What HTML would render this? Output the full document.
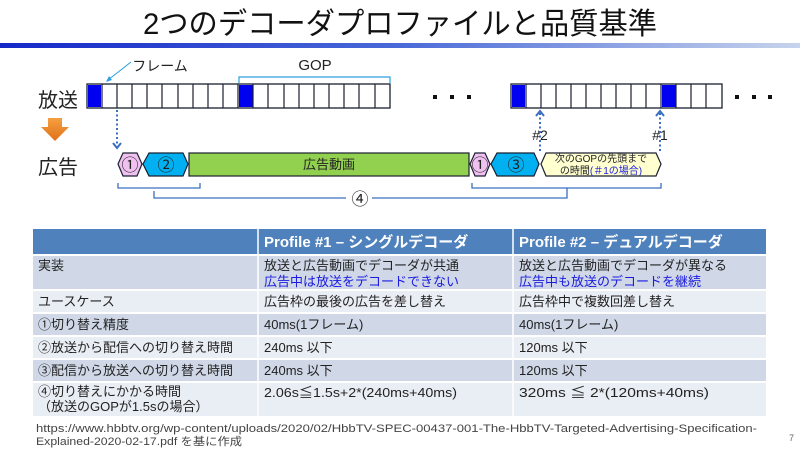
<!DOCTYPE html>
<html><head><meta charset="utf-8"><style>
body{margin:0;width:800px;height:449px;background:#fff;overflow:hidden;font-family:"Liberation Sans","Noto Sans CJK JP",sans-serif}
svg{display:block}
</style></head><body>
<svg width="800" height="449" viewBox="0 0 800 449" font-family="Liberation Sans, Noto Sans CJK JP, sans-serif">
<defs>
<linearGradient id="bar" x1="0" x2="1"><stop offset="0" stop-color="#1428c8"/><stop offset="0.5" stop-color="#4a6ad8"/><stop offset="1" stop-color="#c8d4ec"/></linearGradient>
<linearGradient id="or" x1="0" y1="0" x2="0" y2="1"><stop offset="0" stop-color="#f5a040"/><stop offset="1" stop-color="#e0701a"/></linearGradient>
</defs>
<text x="143" y="34" font-size="30" fill="#111" textLength="514" lengthAdjust="spacingAndGlyphs">2つのデコーダプロファイルと品質基準</text>
<rect x="0" y="43" width="800" height="5" fill="url(#bar)"/>

<text x="58" y="107" text-anchor="middle" font-size="20" fill="#222">放送</text>
<text x="58" y="174" text-anchor="middle" font-size="20" fill="#222">広告</text>
<path d="M48 118h14v9h7l-14 14l-14-14h7z" fill="url(#or)"/>

<rect x="87" y="84" width="303" height="24" fill="#fff" stroke="#1a2030" stroke-width="1.3"/>
<rect x="88" y="85" width="13" height="22" fill="#0000f0"/>
<rect x="239" y="85" width="13.5" height="22" fill="#0000f0"/>
<g stroke="#1a2030" stroke-width="1.2">
<path d="M102 84v24M117 84v24M132 84v24M147 84v24M162 84v24M178 84v24M193 84v24M208 84v24M223 84v24M238 84v24M253 84v24M268 84v24M284 84v24M299 84v24M314 84v24M329 84v24M344 84v24M359 84v24M375 84v24"/>
</g>
<text x="160" y="71" text-anchor="middle" font-size="14" fill="#222">フレーム</text>
<path d="M131 62L108 80" stroke="#2a9fe0" stroke-width="1"/>
<path d="M106 82l3-6l3 4z" fill="#2a9fe0"/>
<text x="315" y="70" text-anchor="middle" font-size="15" fill="#222">GOP</text>
<path d="M239 83v-6h151v6" fill="none" stroke="#2a9fe0" stroke-width="1.2"/>

<g fill="#111"><rect x="433" y="95" width="4" height="4"/><rect x="450" y="95" width="4" height="4"/><rect x="467" y="95" width="4" height="4"/>
<rect x="735" y="95" width="4" height="4"/><rect x="752" y="95" width="4" height="4"/><rect x="768" y="95" width="4" height="4"/></g>

<rect x="511" y="84" width="211" height="24" fill="#fff" stroke="#1a2030" stroke-width="1.3"/>
<rect x="512" y="85" width="13" height="22" fill="#0000f0"/>
<rect x="662" y="85" width="13.5" height="22" fill="#0000f0"/>
<g stroke="#1a2030" stroke-width="1.2">
<path d="M526 84v24M541 84v24M556 84v24M571 84v24M586 84v24M601 84v24M616 84v24M631 84v24M646 84v24M661 84v24M676 84v24M691 84v24M706 84v24"/>
</g>

<g stroke="#3a6fc0" stroke-width="2" stroke-dasharray="2 2.5" fill="none">
<path d="M117 110v37"/><path d="M540 113v38"/><path d="M660 113v38"/>
</g>
<g stroke="#3a6fc0" stroke-width="2" fill="none">
<path d="M113 143l4 5l4-5"/><path d="M536 116l4-5l4 5"/><path d="M656 116l4-5l4 5"/>
</g>
<text x="540" y="140" text-anchor="middle" font-size="14" fill="#222">#2</text>
<text x="660" y="140" text-anchor="middle" font-size="14" fill="#222">#1</text>

<g stroke="#1a2030" stroke-width="1.2">
<path d="M123 153h14l5 11l-5 12h-14l-5-12z" fill="#f0c0f0"/>
<path d="M149 153h34l5 11l-5 12h-34l-6-12z" fill="#00b0f0"/>
<rect x="189" y="153" width="280" height="23" fill="#92d050"/>
<path d="M475 153h10l5 11l-5 12h-10l-5-12z" fill="#f0c0f0"/>
<path d="M497 153h37l5 11l-5 12h-37l-6-12z" fill="#00b0f0"/>
<path d="M546 153h110l5 11l-5 12h-110l-5-12z" fill="#ffffd0"/>
</g>
<g font-size="17" fill="#222" text-anchor="middle">
<text x="130" y="171">①</text><text x="166" y="171">②</text>
<text x="480" y="171">①</text><text x="516" y="171">③</text>
</g>
<text x="329" y="169" text-anchor="middle" font-size="13" fill="#222">広告動画</text>
<text x="601" y="162" text-anchor="middle" font-size="10" fill="#222">次のGOPの先頭まで</text>
<text x="601" y="174" text-anchor="middle" font-size="10" fill="#222">の時間<tspan fill="#2020e0">(＃1の場合)</tspan></text>

<g stroke="#3a6fc0" stroke-width="1.3" fill="none">
<path d="M118 183v5h82v-5"/>
<path d="M472 183v5h189v-5"/>
<path d="M567 188v10h-216"/>
<path d="M154 191v7h193"/>
</g>
<rect x="346" y="190" width="26" height="16" fill="#fff"/>
<text x="360" y="205" text-anchor="middle" font-size="17" fill="#222">④</text>

<rect x="33" y="229" width="733" height="25" fill="#4f81bd"/>
<rect x="33" y="256" width="733" height="33" fill="#d0d8e8"/>
<rect x="33" y="291" width="733" height="21" fill="#e9edf4"/>
<rect x="33" y="314" width="733" height="21" fill="#d0d8e8"/>
<rect x="33" y="337" width="733" height="21" fill="#e9edf4"/>
<rect x="33" y="360" width="733" height="21" fill="#d0d8e8"/>
<rect x="33" y="383" width="733" height="33" fill="#e9edf4"/>
<path d="M258 229v187M513 229v187" stroke="#fff" stroke-width="1.5"/>
<g font-size="15" fill="#fff" font-weight="bold">
<text x="264" y="247">Profile #1 – シングルデコーダ</text>
<text x="519" y="247">Profile #2 – デュアルデコーダ</text>
</g>
<g font-size="13" fill="#222">
<text x="38" y="270">実装</text>
<text x="264" y="270">放送と広告動画でデコーダが共通</text>
<text x="264" y="286" fill="#1a1ae0">広告中は放送をデコードできない</text>
<text x="519" y="270">放送と広告動画でデコーダが異なる</text>
<text x="519" y="286" fill="#1a1ae0">広告中も放送のデコードを継続</text>
<text x="38" y="306">ユースケース</text>
<text x="264" y="306">広告枠の最後の広告を差し替え</text>
<text x="519" y="306">広告枠中で複数回差し替え</text>
<text x="38" y="329">①切り替え精度</text>
<text x="264" y="329">40ms(1フレーム)</text>
<text x="519" y="329">40ms(1フレーム)</text>
<text x="38" y="352">②放送から配信への切り替え時間</text>
<text x="264" y="352">240ms 以下</text>
<text x="519" y="352">120ms 以下</text>
<text x="38" y="375">③配信から放送への切り替え時間</text>
<text x="264" y="375">240ms 以下</text>
<text x="519" y="375">120ms 以下</text>
<text x="38" y="396">④切り替えにかかる時間</text>
<text x="38" y="411">（放送のGOPが1.5sの場合）</text>
<text x="264" y="397" textLength="193" lengthAdjust="spacingAndGlyphs">2.06s≦1.5s+2*(240ms+40ms)</text>
<text x="519" y="397" textLength="190" lengthAdjust="spacingAndGlyphs">320ms ≦ 2*(120ms+40ms)</text>
</g>
<g font-size="11" fill="#444">
<text x="36" y="432" textLength="721" lengthAdjust="spacingAndGlyphs">https://www.hbbtv.org/wp-content/uploads/2020/02/HbbTV-SPEC-00437-001-The-HbbTV-Targeted-Advertising-Specification-</text>
<text x="36" y="445" textLength="206" lengthAdjust="spacingAndGlyphs">Explained-2020-02-17.pdf を基に作成</text>
<text x="789" y="441" font-size="9" fill="#666">7</text>
</g>
</svg>
</body></html>
